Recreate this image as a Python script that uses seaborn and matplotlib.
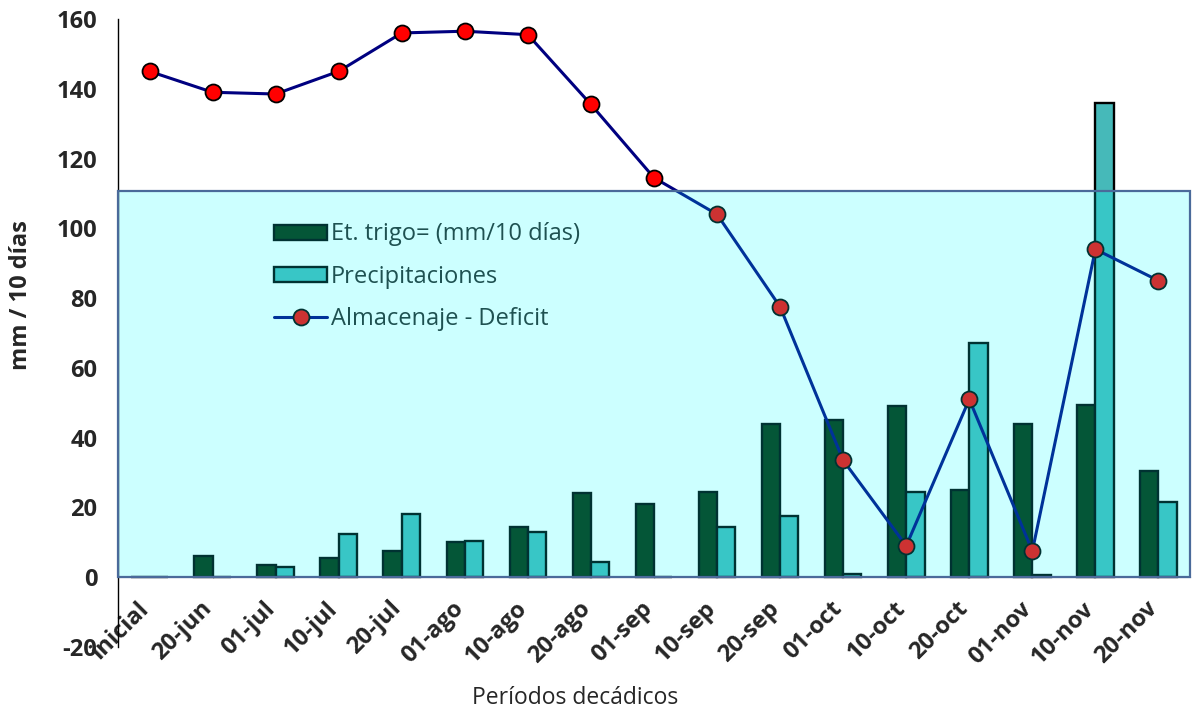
import numpy as np
import pandas as pd
import matplotlib
matplotlib.use("Agg")
import matplotlib.pyplot as plt
import matplotlib.transforms as mtransforms
import seaborn as sns
from matplotlib.patches import Rectangle

# Data
periodos = ["inicial", "20-jun", "01-jul", "10-jul", "20-jul", "01-ago", "10-ago",
            "20-ago", "01-sep", "10-sep", "20-sep", "01-oct", "10-oct", "20-oct",
            "01-nov", "10-nov", "20-nov"]
et_trigo = [0, 6, 3.5, 5.5, 7.5, 10, 14.5, 24, 21, 24.5, 44, 45, 49, 25, 44, 49.5, 30.5]
precipitaciones = [0, 0, 3, 12.5, 18, 10.5, 13, 4.5, 0, 14.5, 17.5, 1, 24.5, 67, 0.5, 136, 21.5]
almacenaje = [145, 139, 138.5, 145, 156, 156.5, 155.5, 135.5, 114.5, 104, 77.5,
              33.5, 9, 51, 7.5, 94, 85]
y_ticks = [-20, 0, 20, 40, 60, 80, 100, 120, 140, 160]
umbral = 110.6  # top of the shaded band

serie_et = "Et. trigo= (mm/10 días)"
serie_pp = "Precipitaciones"
serie_alm = "Almacenaje - Deficit"

df = pd.DataFrame({
    "periodo": periodos * 2,
    "serie": [serie_et] * len(periodos) + [serie_pp] * len(periodos),
    "valor": et_trigo + precipitaciones,
})

sns.set_style("white")
plt.rcParams["font.family"] = ["Open Sans", "DejaVu Sans"]

fig = plt.figure(figsize=(11.92, 7.11), dpi=100)
ax = fig.add_axes([118 / 1192, 1 - 647 / 711, (1190 - 118) / 1192, (647 - 19) / 711])

sns.barplot(data=df, x="periodo", y="valor", hue="serie", order=periodos,
            hue_order=[serie_et, serie_pp], palette=["#003300", "#33cccc"],
            width=0.58, gap=0, edgecolor="black", linewidth=1.7,
            errorbar=None, ax=ax, zorder=2)

sns.lineplot(x=np.arange(len(periodos)), y=almacenaje, color="#000080", linewidth=2.2,
             marker="o", markersize=11.5, markerfacecolor="red",
             markeredgecolor="black", markeredgewidth=1.3, label=serie_alm,
             ax=ax, zorder=4)

# translucent cyan band on top of everything
ax.add_patch(Rectangle((-0.5, 0), len(periodos), umbral, facecolor=(0, 1, 1, 0.2),
                       edgecolor="#4a6a9a", linewidth=1.6, zorder=10, clip_on=False))

ax.set_xlim(-0.5, len(periodos) - 0.5)
ax.set_ylim(-20, 160)

# spines first: moving the bottom spine rebuilds the ticks
for s in ["top", "right"]:
    ax.spines[s].set_visible(False)
ax.spines["bottom"].set_position(("data", 0))
ax.spines["bottom"].set_color("#4a6a9a")
ax.spines["left"].set_color("black")
ax.spines["left"].set_linewidth(1)

ax.tick_params(axis="x", which="major", length=0, pad=14)
ax.tick_params(axis="x", which="minor", length=11, width=1, direction="inout", color="#404040")
ax.tick_params(axis="y", length=12, width=1, direction="inout", color="#404040", pad=9)

ax.set_yticks(y_ticks)
ax.set_yticklabels([str(v) for v in y_ticks], fontsize=17, fontweight="bold")
ax.set_xticks(range(len(periodos)))
ax.set_xticklabels(periodos, rotation=45, ha="right", fontsize=17, fontweight="bold")
ax.set_xticks(np.arange(0.5, len(periodos), 1), minor=True)

# nudge the rotated labels a little to the right
shift = mtransforms.ScaledTranslation(4 / 100, 0, fig.dpi_scale_trans)
for lbl in ax.get_xticklabels():
    lbl.set_transform(lbl.get_transform() + shift)

ax.set_ylabel("mm / 10 días", fontsize=17, fontweight="bold")
ax.yaxis.set_label_coords(-0.079, 0.56)
ax.set_xlabel("Períodos decádicos", fontsize=16.5)
ax.xaxis.set_label_coords(0.426, -0.062)

handles, labels = ax.get_legend_handles_labels()
ax.legend(handles, labels, loc="upper left", bbox_to_anchor=(0.126, 0.71),
          frameon=False, fontsize=17, handlelength=2.25, handleheight=0.6,
          handletextpad=0.15, labelspacing=0.78)

fig.savefig("out.png", dpi=100)
